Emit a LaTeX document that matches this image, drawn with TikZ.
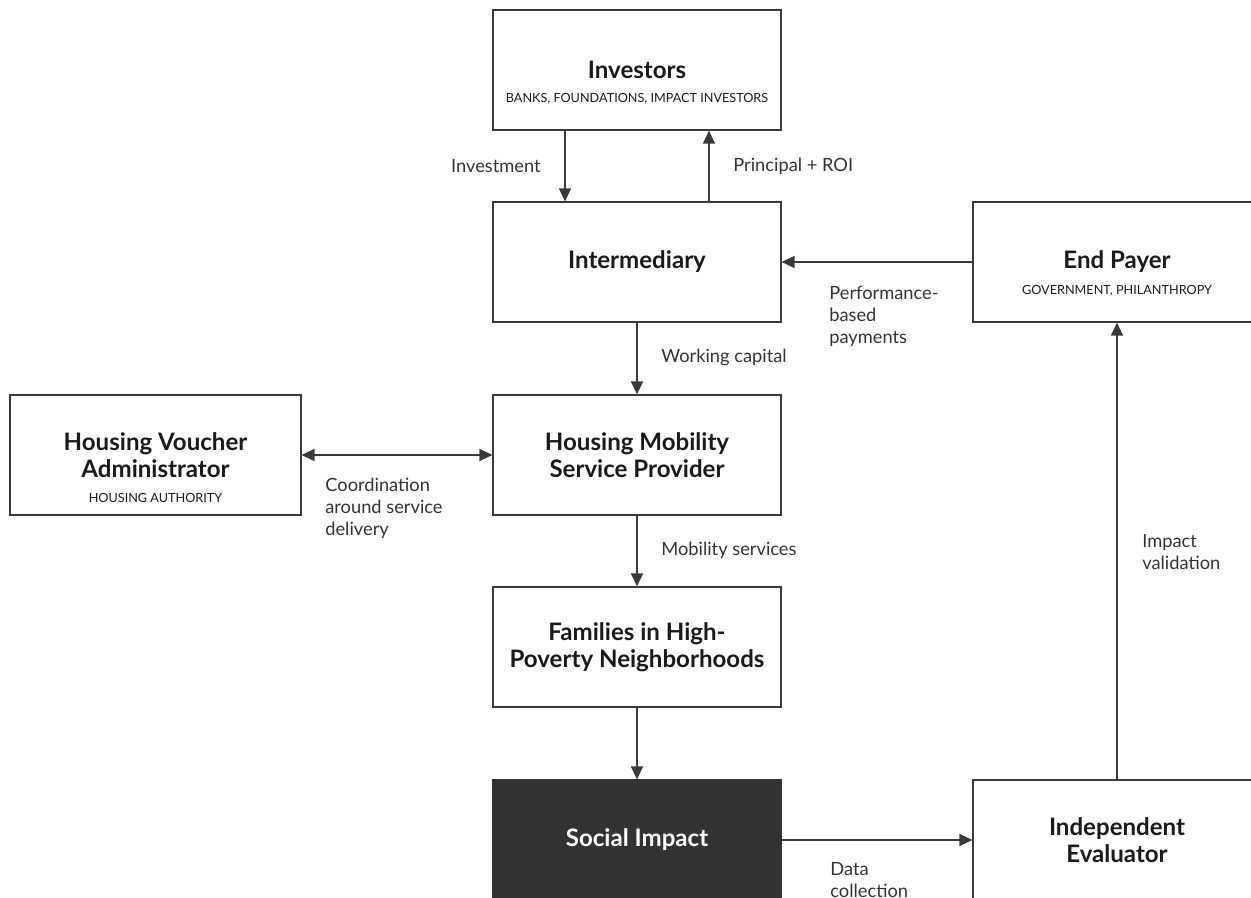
\documentclass[tikz,border=0pt]{standalone}
\usepackage{fontspec}
\setmainfont{Lato}
\usepackage{xcolor}
\usetikzlibrary{arrows.meta,positioning}
\definecolor{ink}{HTML}{1A1A1A}
\definecolor{inkgray}{HTML}{3A3A3A}
\definecolor{notegray}{HTML}{333333}
\definecolor{darkfill}{HTML}{333333}
\tikzset{
  flowbox/.style={draw=inkgray,fill=white,line width=0.7pt,
                  minimum width=5.76cm,minimum height=2.4cm,
                  align=center,font=\fontsize{13.7}{15.5}\selectfont\bfseries,
                  text=ink,inner sep=0pt},
  darkbox/.style={flowbox,draw=darkfill,fill=darkfill,text=white},
  subcap/.style={font=\fontsize{7.2}{9}\selectfont,text=ink,inner sep=0pt},
  note/.style={align=left,font=\fontsize{10.4}{12.5}\selectfont,
               text=notegray,inner sep=0pt},
  flowarr/.style={-{Triangle[length=2.6mm,width=2.4mm]},line width=0.75pt,draw=inkgray},
  duoarr/.style={{Triangle[length=2.6mm,width=2.4mm]}-{Triangle[length=2.6mm,width=2.4mm]},
                 line width=0.75pt,draw=inkgray}
}
\begin{document}
\begin{tikzpicture}[x=0.02cm,y=-0.02cm]
  \clip (0,0) rectangle (1251,898);

  % boxes
  \node[flowbox] (investors) at (637,70) {Investors};
  \node[subcap] (investorssub) at (637,99) {BANKS, FOUNDATIONS, IMPACT INVESTORS};
  \node[flowbox] (inter) at (637,262) {Intermediary};
  \node[flowbox] (payer) at (1117,262) {End Payer};
  \node[subcap] (payersub) at (1117,291) {GOVERNMENT, PHILANTHROPY};
  \node[flowbox] (provider) at (637,455) {Housing Mobility\\Service Provider};
  \node[flowbox,minimum width=5.82cm] (voucher) at (155.5,455) {Housing Voucher\\Administrator};
  \node[subcap] (vouchersub) at (155.5,498) {HOUSING AUTHORITY};
  \node[flowbox] (families) at (637,647) {Families in High-\\Poverty Neighborhoods};
  \node[darkbox] (impact) at (637,840) {Social Impact};
  \node[flowbox] (evaluator) at (1117,840) {Independent\\Evaluator};

  % connectors
  \draw[flowarr] ([xshift=-1.44cm]investors.south) -- ([xshift=-1.44cm]inter.north);
  \draw[flowarr] ([xshift=1.44cm]inter.north) -- ([xshift=1.44cm]investors.south);
  \draw[flowarr] (payer) -- (inter);
  \draw[flowarr] (inter) -- (provider);
  \draw[duoarr] (voucher) -- (provider);
  \draw[flowarr] (provider) -- (families);
  \draw[flowarr] (families) -- (impact);
  \draw[flowarr] (impact) -- (evaluator);
  \draw[flowarr] (evaluator) -- (payer);

  % labels
  \node[note,anchor=east] (investlbl) at (541,166) {Investment};
  \node[note,anchor=west] (roilbl) at (733,166) {Principal + ROI};
  \node[note,anchor=west] (perflbl) at (829,316) {Performance-\\based\\payments};
  \node[note,anchor=west] (capitallbl) at (661,357) {Working capital};
  \node[note,anchor=west] (coordlbl) at (325,508) {Coordination\\around service\\delivery};
  \node[note,anchor=west] (mobilitylbl) at (661,550) {Mobility services};
  \node[note,anchor=west] (validlbl) at (1142,552) {Impact\\validation};
  \node[note,anchor=north west] (datalbl) at (830,862) {Data\\collection};
\end{tikzpicture}
\end{document}
